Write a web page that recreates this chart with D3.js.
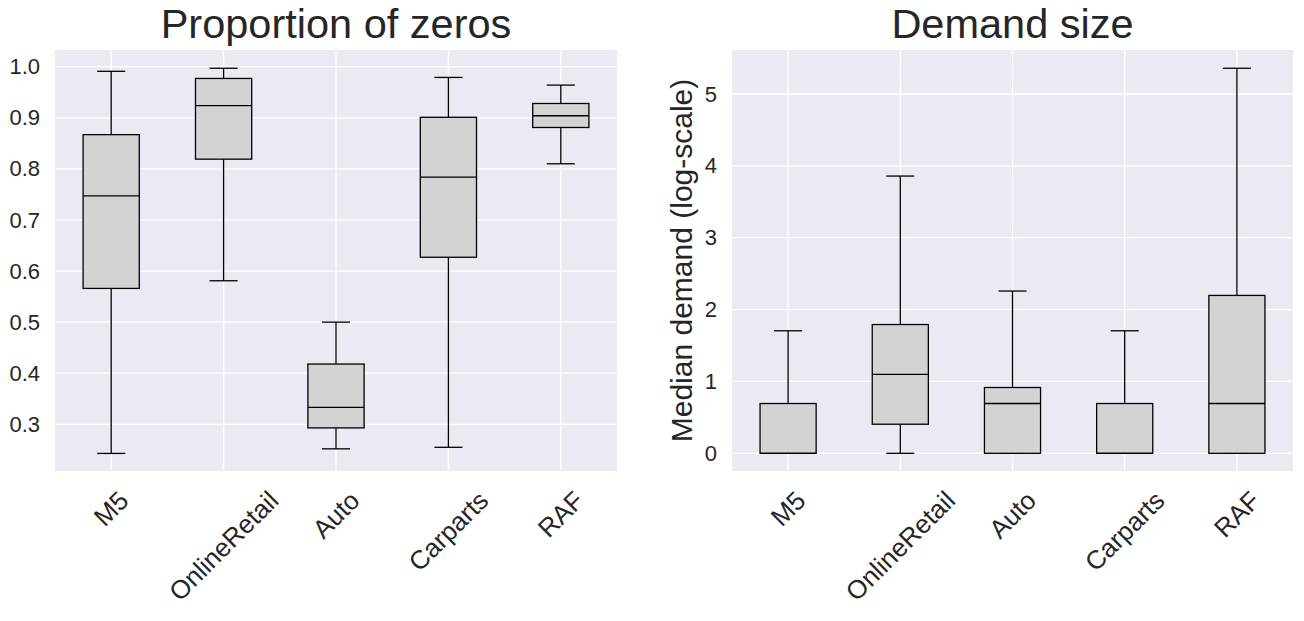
<!DOCTYPE html>
<html>
<head>
<meta charset="utf-8">
<script src="https://cdn.jsdelivr.net/npm/d3@7"></script>
<style>
  body { margin: 0; background: #fff; }
  svg { font-family: "Liberation Sans", Arial, sans-serif; }
</style>
</head>
<body>
<svg id="chart" width="1304" height="621"></svg>
<script>
const categories = ["M5", "OnlineRetail", "Auto", "Carparts", "RAF"];

// proportion of zeros: whisker low, Q1, median, Q3, whisker high
const zerosLow = [0.243, 0.581, 0.252, 0.255, 0.810];
const zerosQ1 = [0.566, 0.819, 0.293, 0.627, 0.881];
const zerosMed = [0.747, 0.924, 0.333, 0.784, 0.904];
const zerosQ3 = [0.867, 0.977, 0.418, 0.901, 0.928];
const zerosHigh = [0.991, 0.997, 0.500, 0.979, 0.964];
const zerosTicks = [0.3, 0.4, 0.5, 0.6, 0.7, 0.8, 0.9, 1.0];

// demand size (log-scale)
const sizeLow = [0, 0, 0, 0, 0];
const sizeQ1 = [0, 0.405, 0, 0, 0];
const sizeMed = [0, 1.099, 0.693, 0, 0.693];
const sizeQ3 = [0.693, 1.792, 0.916, 0.693, 2.197];
const sizeHigh = [1.705, 3.858, 2.258, 1.705, 5.358];
const sizeTicks = [0, 1, 2, 3, 4, 5];

const svg = d3.select("#chart");
const plotTop = 50, plotBottom = 471;

function panel(opts) {
  const { left, right, domain, ticks, fmt, title, ylabel, low, q1, med, q3, high } = opts;
  const x = d3.scaleBand().domain(categories).range([left, right]);
  const y = d3.scaleLinear().domain(domain).range([plotBottom, plotTop]);
  const cx = (c) => x(c) + x.bandwidth() / 2;
  const g = svg.append("g");

  g.append("rect")
    .attr("x", left).attr("y", plotTop)
    .attr("width", right - left).attr("height", plotBottom - plotTop)
    .attr("fill", "#eaeaf2");

  // grid
  g.selectAll(".hg").data(ticks).join("line")
    .attr("x1", left).attr("x2", right)
    .attr("y1", (d) => y(d)).attr("y2", (d) => y(d))
    .attr("stroke", "#fff").attr("stroke-width", 1.3);
  g.selectAll(".vg").data(categories).join("line")
    .attr("x1", cx).attr("x2", cx)
    .attr("y1", plotTop).attr("y2", plotBottom)
    .attr("stroke", "#fff").attr("stroke-width", 1.3);

  const yAxis = d3.axisLeft(y).tickValues(ticks).tickFormat(fmt).tickSize(0).tickPadding(15);
  const ya = g.append("g").attr("transform", `translate(${left},0)`).call(yAxis);
  ya.select(".domain").remove();
  ya.selectAll("text").attr("font-size", 22).attr("fill", "#262626")
    .attr("font-family", '"Liberation Sans", Arial, sans-serif');

  const stats = categories.map((c, i) => ({ c, lo: low[i], q1: q1[i], med: med[i], q3: q3[i], hi: high[i] }));
  const bw = x.bandwidth() * 0.5;
  const capw = bw * 0.5;
  const boxes = g.selectAll(".box").data(stats).join("g");

  boxes.append("line")
    .attr("x1", (d) => cx(d.c)).attr("x2", (d) => cx(d.c))
    .attr("y1", (d) => y(d.hi)).attr("y2", (d) => y(d.q3))
    .attr("stroke", "#000").attr("stroke-width", 1.3);
  boxes.append("line")
    .attr("x1", (d) => cx(d.c)).attr("x2", (d) => cx(d.c))
    .attr("y1", (d) => y(d.q1)).attr("y2", (d) => y(d.lo))
    .attr("stroke", "#000").attr("stroke-width", 1.3);
  boxes.append("line")
    .attr("x1", (d) => cx(d.c) - capw / 2).attr("x2", (d) => cx(d.c) + capw / 2)
    .attr("y1", (d) => y(d.hi)).attr("y2", (d) => y(d.hi))
    .attr("stroke", "#000").attr("stroke-width", 1.3);
  boxes.append("line")
    .attr("x1", (d) => cx(d.c) - capw / 2).attr("x2", (d) => cx(d.c) + capw / 2)
    .attr("y1", (d) => y(d.lo)).attr("y2", (d) => y(d.lo))
    .attr("stroke", "#000").attr("stroke-width", 1.3);
  boxes.append("rect")
    .attr("x", (d) => cx(d.c) - bw / 2).attr("width", bw)
    .attr("y", (d) => y(d.q3)).attr("height", (d) => y(d.q1) - y(d.q3))
    .attr("fill", "#d3d3d3").attr("stroke", "#000").attr("stroke-width", 1.3);
  boxes.append("line")
    .attr("x1", (d) => cx(d.c) - bw / 2).attr("x2", (d) => cx(d.c) + bw / 2)
    .attr("y1", (d) => y(d.med)).attr("y2", (d) => y(d.med))
    .attr("stroke", "#000").attr("stroke-width", 1.3);

  // rotated category labels, bbox centred under each tick
  const fs = 26;
  g.selectAll(".xl").data(categories).join("text")
    .text((d) => d)
    .attr("font-size", fs).attr("fill", "#262626")
    .attr("text-anchor", "middle")
    .attr("dominant-baseline", "central")
    .each(function (d) {
      const L = this.getComputedTextLength();
      const h = (L + fs * 0.75) * Math.SQRT1_2;
      d3.select(this).attr("transform", `translate(${cx(d)},${489 + h / 2}) rotate(-45)`);
    });

  g.append("text")
    .attr("x", (left + right) / 2).attr("y", 38)
    .attr("text-anchor", "middle")
    .attr("font-size", 41.5).attr("fill", "#262626")
    .text(title);

  if (ylabel) {
    g.append("text")
      .attr("transform", `translate(${left - 40},${(plotTop + plotBottom) / 2}) rotate(-90)`)
      .attr("text-anchor", "middle")
      .attr("font-size", 30).attr("fill", "#262626")
      .text(ylabel);
  }
}

panel({
  left: 55, right: 617, domain: [0.2086, 1.0327], ticks: zerosTicks, fmt: d3.format(".1f"),
  title: "Proportion of zeros", low: zerosLow, q1: zerosQ1, med: zerosMed, q3: zerosQ3, high: zerosHigh
});
panel({
  left: 732, right: 1293, domain: [-0.246, 5.612], ticks: sizeTicks, fmt: d3.format("d"),
  title: "Demand size", ylabel: "Median demand (log-scale)",
  low: sizeLow, q1: sizeQ1, med: sizeMed, q3: sizeQ3, high: sizeHigh
});
</script>
</body>
</html>
